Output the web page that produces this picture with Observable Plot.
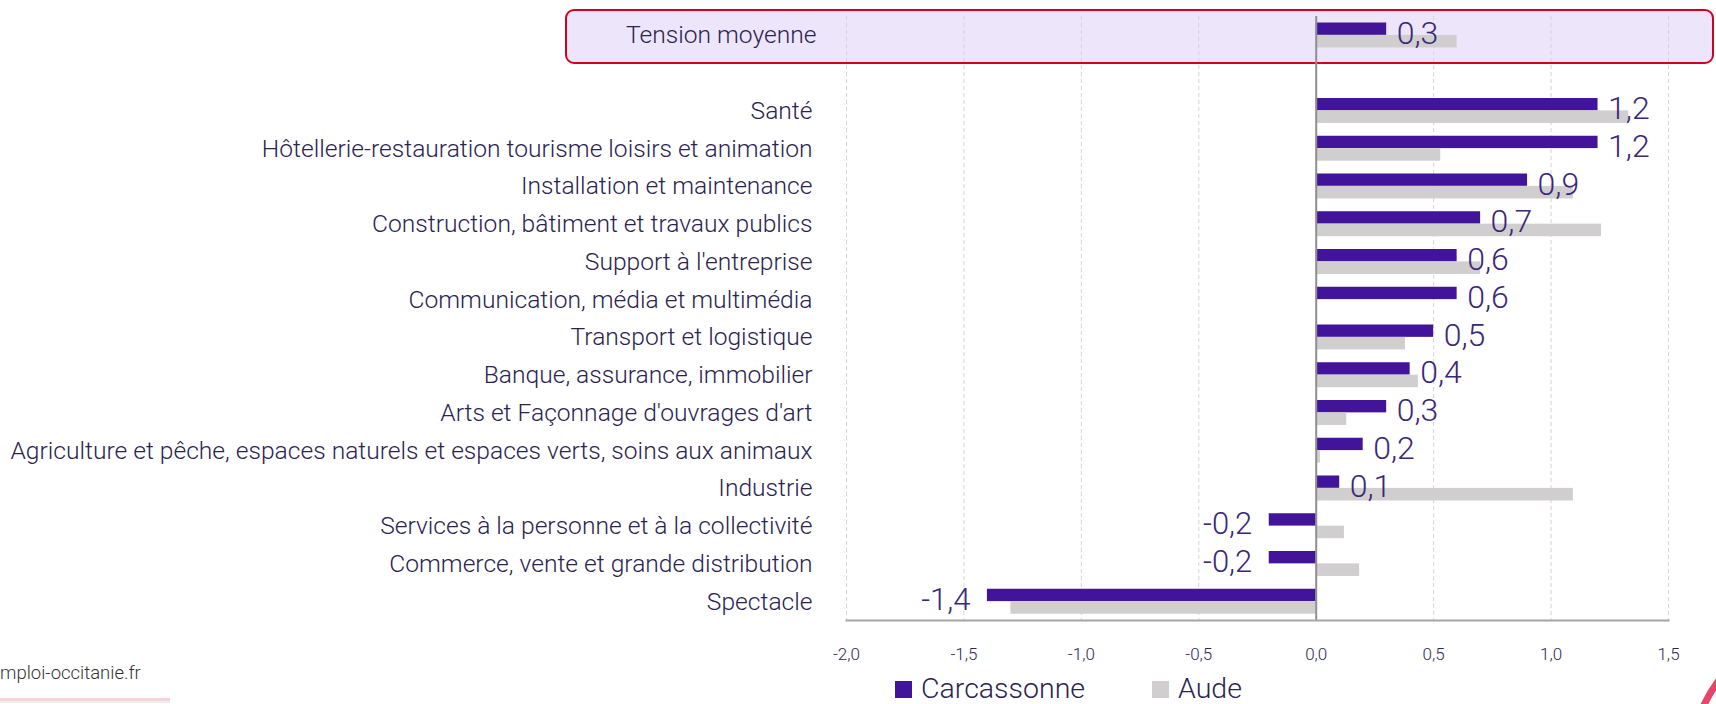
<!DOCTYPE html>
<html><head><meta charset="utf-8">
<script src="https://cdn.jsdelivr.net/npm/d3@7"></script>
<script src="https://cdn.jsdelivr.net/npm/@observablehq/plot@0.6"></script>
<style>
body{margin:0;background:#fff;font-family:Roboto,"Open Sans",sans-serif;}
#wrap{position:relative;width:1716px;height:704px;overflow:hidden;background:#fff;}
#box{position:absolute;left:565px;top:9px;width:1145px;height:51px;background:#ede6fa;border:2px solid #d6001c;border-radius:9px;}
#chart{position:absolute;left:0;top:0;}
#chart svg text{font-weight:300;}
#legend{position:absolute;left:895px;top:676px;height:26px;line-height:26px;display:flex;align-items:center;font-size:28.5px;font-weight:300;color:#2b2350;}
#legend .sw{display:inline-block;width:17px;height:17px;margin-right:9px;}
#legend .item{display:flex;align-items:center;margin-right:67px;}
#caption{position:absolute;left:0;top:662px;font-size:18.5px;line-height:22px;font-weight:300;color:#333;}
#pinkline{position:absolute;left:0;top:698px;width:170px;height:3px;background:#f6d3da;border-bottom:2px solid #eeeeee;}
#arc{position:absolute;left:1686px;top:617px;width:290px;height:290px;border-radius:50%;border:7px solid #e8456a;box-shadow:-6px -4px 14px rgba(255,255,255,0.9) inset;}
</style></head>
<body>
<div id="wrap">
  <div id="box"></div>
  <div id="chart"></div>
  <div id="legend"></div>
  <div id="caption">mploi-occitanie.fr</div>
  <div id="pinkline"></div>
  <div id="arc"></div>
</div>
<script>
const categories = [
  "Tension moyenne",
  "Santé",
  "Hôtellerie-restauration tourisme loisirs et animation",
  "Installation et maintenance",
  "Construction, bâtiment et travaux publics",
  "Support à l'entreprise",
  "Communication, média et multimédia",
  "Transport et logistique",
  "Banque, assurance, immobilier",
  "Arts et Façonnage d'ouvrages d'art",
  "Agriculture et pêche, espaces naturels et espaces verts, soins aux animaux",
  "Industrie",
  "Services à la personne et à la collectivité",
  "Commerce, vente et grande distribution",
  "Spectacle"
];
const carcassonne = [0.3, 1.2, 1.2, 0.9, 0.7, 0.6, 0.6, 0.5, 0.4, 0.3, 0.2, 0.1, -0.2, -0.2, -1.4];
const aude = [0.6, 1.33, 0.53, 1.095, 1.215, 0.70, null, 0.38, 0.435, 0.13, 0.018, 1.095, 0.12, 0.185, -1.30];
const xTicks = [-2, -1.5, -1, -0.5, 0, 0.5, 1, 1.5];
const seriesNames = ["Carcassonne", "Aude"];
const colors = ["#42149a", "#d0cece"];

const gapKey = " ";
const yDomain = [categories[0], gapKey, ...categories.slice(1)];
const rows = categories.map((c, i) => ({cat: c, carc: carcassonne[i], aude: aude[i]}));
const rowsA = rows.filter(d => d.aude != null);
const fmt = v => v.toFixed(1).replace(".", ",");

const plot = Plot.plot({
  width: 1716,
  height: 670,
  marginLeft: 846,
  marginRight: 48,
  marginTop: 16,
  marginBottom: 50,
  style: {background: "transparent", color: "#2b2350", fontFamily: "Roboto, 'Open Sans', sans-serif"},
  x: {domain: [xTicks[0], xTicks[xTicks.length - 1]], axis: null},
  y: {domain: yDomain, padding: 0, round: false, axis: null},
  marks: [
    Plot.gridX(xTicks.filter(t => t !== 0), {stroke: "#d4d4d4", strokeOpacity: 1, strokeDasharray: "4,3"}),
    Plot.barX(rows, {x: "carc", y: "cat", fill: colors[0], insetTop: 6.5, insetBottom: 18.9}),
    Plot.barX(rowsA, {x: "aude", y: "cat", fill: colors[1], insetTop: 18.9, insetBottom: 6.3}),
    Plot.ruleX([0], {stroke: "#8f8f8f", strokeWidth: 2}),
    Plot.frame({anchor: "bottom", stroke: "#a6a6a6", strokeWidth: 2}),
    Plot.axisY(yDomain.slice(1), {tickSize: 0, tickPadding: 34, fontSize: 24.6, fill: "#2b2350", label: null}),
    Plot.axisY(yDomain.slice(0, 1), {tickSize: 0, tickPadding: 30, fontSize: 24.6, fill: "#2b2350", label: null}),
    Plot.axisX(xTicks, {tickSize: 0, tickPadding: 27, fontSize: 17, fill: "#2e2a55", tickFormat: fmt, label: null}),
    Plot.text(rows.filter(d => d.carc >= 0), {x: "carc", y: "cat", text: d => fmt(d.carc), dx: 10, dy: -2, textAnchor: "start", fontSize: 32, fill: "#3a2779"}),
    Plot.text(rows.filter(d => d.carc < 0), {x: "carc", y: "cat", text: d => fmt(d.carc), dx: -17, dy: -2, textAnchor: "end", fontSize: 31, fill: "#3a2779"})
  ]
});
document.getElementById("chart").appendChild(plot);

const legend = document.getElementById("legend");
seriesNames.forEach((n, i) => {
  const it = document.createElement("div");
  it.className = "item";
  const sw = document.createElement("span");
  sw.className = "sw";
  sw.style.background = colors[i];
  it.appendChild(sw);
  it.appendChild(document.createTextNode(n));
  legend.appendChild(it);
});
</script>
</body></html>
